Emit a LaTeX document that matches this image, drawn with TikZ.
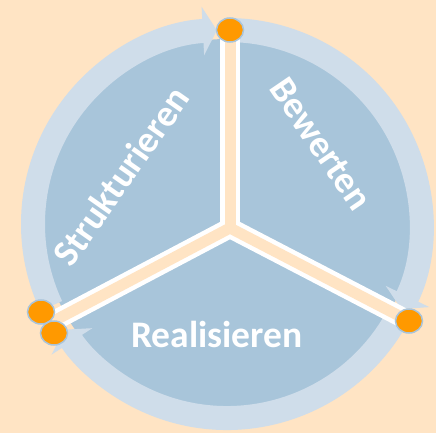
\documentclass[tikz,border=0pt]{standalone}
\usepackage{fontspec}
\setmainfont{Carlito}
\usetikzlibrary{arrows.meta,shapes.geometric,calc}
\definecolor{bg}{HTML}{FFE4C4}
\definecolor{disc}{HTML}{A8C5DA}
\definecolor{band}{HTML}{CFDDEA}
\definecolor{dotorange}{HTML}{FF9900}
\definecolor{dotrim}{HTML}{A9C4DA}
\begin{document}
\begin{tikzpicture}[x=1pt,y=-1pt,
  ring/.style={draw=band,line width=24pt,-{Triangle[length=14pt,width=48pt]}},
  divw/.style={draw=white,line width=20pt,line join=miter},
  divp/.style={draw=bg,line width=11pt,line join=miter},
  dot/.style={ellipse,fill=dotorange,draw=dotrim,line width=1.5pt,minimum width=27pt,minimum height=24pt,inner sep=0pt},
  lbl/.style={text=white,font=\fontsize{37.5}{40}\selectfont\bfseries,inner sep=0pt}]
\useasboundingbox (0,0) rectangle (436,433);
\fill[bg] (0,0) rectangle (436,433);
\coordinate (C) at (227,224);
\fill[disc] (C) circle[radius=185];
% ring arrows
\draw[ring] ($(C)+(155:194)$) arc[start angle=155,end angle=267,radius=194];
\draw[ring] ($(C)+(-89:194)$) arc[start angle=-89,end angle=26,radius=194];
\draw[ring] ($(C)+(26:194)$) arc[start angle=26,end angle=147,radius=194];
% dividers
\coordinate (Y) at (230,228);
\coordinate (pT) at (230,30);
\coordinate (pR) at (409,321);
\coordinate (pL) at (48,324);
\coordinate (pL1) at (41,312);
\coordinate (pL2) at (54,333);
\draw[divw] (pL) -- (Y) -- (pR);
\draw[divw] (pT) -- (Y);
\draw[divp] (pL) -- (Y) -- (pR);
\draw[divp] (pT) -- (Y);
% dots
\node[dot] (dT) at (pT) {};
\node[dot] (dR) at (pR) {};
\node[dot] (dL1) at (pL1) {};
\node[dot] (dL2) at (pL2) {};
% labels
\node[lbl,rotate=55] (tS) at (121,176) {Strukturieren};
\node[lbl,rotate=-55.7] (tB) at (321,144) {Bewerten};
\node[lbl,anchor=base] (tR) at (217,347) {Realisieren};
\end{tikzpicture}
\end{document}
